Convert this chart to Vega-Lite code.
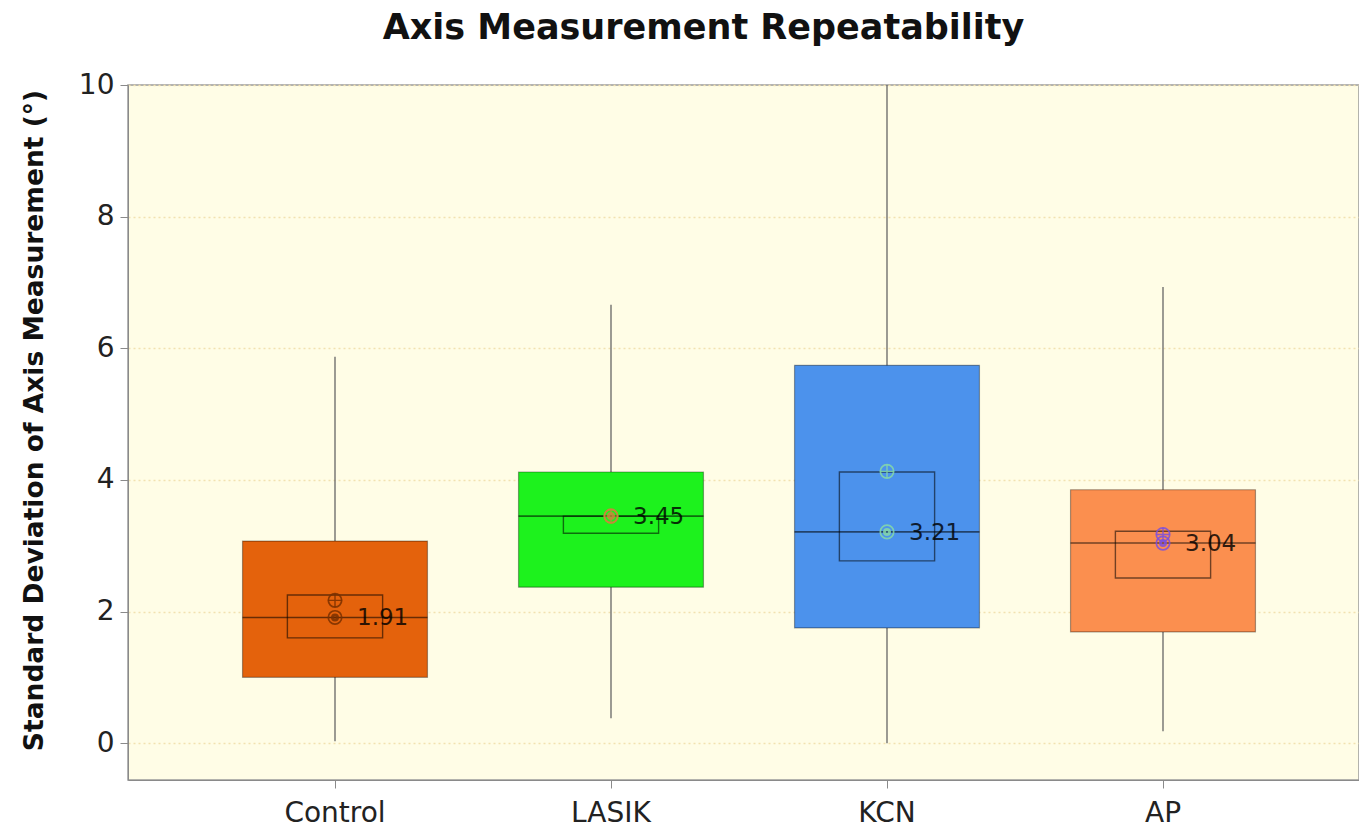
{
  "$schema": "https://vega.github.io/schema/vega-lite/v6.json",
  "autosize": {"type": "none"},
  "padding": {"left": 128, "top": 85, "right": 0, "bottom": 48},
  "width": 1231,
  "height": 695,
  "background": "white",
  "title": {
    "text": "Axis Measurement Repeatability",
    "font": "DejaVu Sans",
    "fontSize": 35,
    "fontWeight": "bold",
    "color": "#111111",
    "anchor": "middle",
    "frame": "group",
    "dx": -40,
    "offset": 25
  },
  "config": {
    "view": {"fill": "#FFFDE6", "stroke": "#9a9a9a", "strokeWidth": 1.5},
    "axis": {
      "labelFont": "DejaVu Sans",
      "titleFont": "DejaVu Sans",
      "labelColor": "#222222",
      "titleColor": "#111111",
      "domainColor": "#8a8a8a",
      "tickColor": "#8a8a8a"
    }
  },
  "data": {
    "values": [
      {"group": "Control", "low": 0.03, "q1": 1.0, "median": 1.91, "q3": 3.07, "high": 5.87, "ciLow": 1.6, "ciHigh": 2.25, "mean": 2.17},
      {"group": "LASIK", "low": 0.38, "q1": 2.37, "median": 3.45, "q3": 4.12, "high": 6.66, "ciLow": 3.19, "ciHigh": 3.45, "mean": 3.45},
      {"group": "KCN", "low": 0.0, "q1": 1.75, "median": 3.21, "q3": 5.74, "high": 10.0, "ciLow": 2.77, "ciHigh": 4.12, "mean": 4.13},
      {"group": "AP", "low": 0.18, "q1": 1.69, "median": 3.04, "q3": 3.85, "high": 6.93, "ciLow": 2.51, "ciHigh": 3.22, "mean": 3.17}
    ]
  },
  "encoding": {
    "x": {
      "field": "group",
      "type": "nominal",
      "sort": ["Control", "LASIK", "KCN", "AP"],
      "scale": {"range": [0, 1242], "paddingInner": 0, "paddingOuter": 0.25},
      "axis": {
        "title": null,
        "labelAngle": 0,
        "labelFontSize": 28,
        "labelPadding": 11,
        "tickSize": 8,
        "domain": true,
        "grid": false
      }
    }
  },
  "layer": [
    {
      "mark": {"type": "rule", "color": "#666666", "strokeWidth": 1.3},
      "encoding": {
        "y": {
          "field": "low",
          "type": "quantitative",
          "scale": {"domain": [-0.56, 10], "nice": false, "zero": false},
          "axis": {
            "title": "Standard Deviation of Axis Measurement (°)",
            "titleFontSize": 26.5,
            "titleFontWeight": "bold",
            "titlePadding": 30,
            "titleY": 335,
            "values": [0, 2, 4, 6, 8, 10],
            "format": "d",
            "labelFontSize": 28,
            "labelPadding": 6,
            "tickSize": 8,
            "grid": true,
            "gridColor": "#F2E2B0",
            "gridDash": [2, 3],
            "gridWidth": 1.5
          }
        },
        "y2": {"field": "high"}
      }
    },
    {
      "mark": {"type": "bar", "width": {"band": 0.67}, "stroke": "#000000", "strokeOpacity": 0.35, "strokeWidth": 1.2},
      "encoding": {
        "y": {"field": "q1", "type": "quantitative"},
        "y2": {"field": "q3"},
        "fill": {
          "field": "group",
          "type": "nominal",
          "scale": {
            "domain": ["Control", "LASIK", "KCN", "AP"],
            "range": ["#E4620C", "#1DF21D", "#4C92EC", "#FB8F4F"]
          },
          "legend": null
        }
      }
    },
    {
      "mark": {"type": "tick", "size": 185, "thickness": 1.6, "color": "#000000", "opacity": 0.55},
      "encoding": {
        "y": {"field": "median", "type": "quantitative"}
      }
    },
    {
      "mark": {"type": "bar", "width": {"band": 0.345}, "fill": null, "fillOpacity": 0, "stroke": "#000000", "strokeOpacity": 0.55, "strokeWidth": 1.4},
      "encoding": {
        "y": {"field": "ciLow", "type": "quantitative"},
        "y2": {"field": "ciHigh"}
      }
    },
    {
      "mark": {"type": "point", "shape": "circle", "filled": false, "size": 180, "strokeWidth": 1.7, "opacity": 0.85},
      "encoding": {
        "y": {"field": "mean", "type": "quantitative"},
        "stroke": {
          "field": "group",
          "type": "nominal",
          "scale": {
            "domain": ["Control", "LASIK", "KCN", "AP"],
            "range": ["#7A3000", "#C8883A", "#86D9A8", "#7B4FE0"]
          },
          "legend": null
        }
      }
    },
    {
      "mark": {"type": "point", "shape": "M-1,0L1,0M0,-1L0,1", "filled": false, "size": 180, "strokeWidth": 1.4, "opacity": 0.85},
      "encoding": {
        "y": {"field": "mean", "type": "quantitative"},
        "stroke": {"field": "group", "type": "nominal", "legend": null}
      }
    },
    {
      "mark": {"type": "point", "shape": "circle", "filled": false, "size": 180, "strokeWidth": 1.7, "opacity": 0.85},
      "encoding": {
        "y": {"field": "median", "type": "quantitative"},
        "stroke": {"field": "group", "type": "nominal", "legend": null}
      }
    },
    {
      "mark": {"type": "point", "shape": "circle", "filled": false, "size": 25, "strokeWidth": 3, "opacity": 0.85},
      "encoding": {
        "y": {"field": "median", "type": "quantitative"},
        "stroke": {"field": "group", "type": "nominal", "legend": null}
      }
    },
    {
      "mark": {"type": "text", "align": "left", "baseline": "middle", "dx": 22, "dy": 1, "font": "DejaVu Sans", "fontSize": 23, "color": "#000000", "opacity": 0.8},
      "encoding": {
        "y": {"field": "median", "type": "quantitative"},
        "text": {"field": "median", "type": "quantitative", "format": ".2f"}
      }
    }
  ]
}
